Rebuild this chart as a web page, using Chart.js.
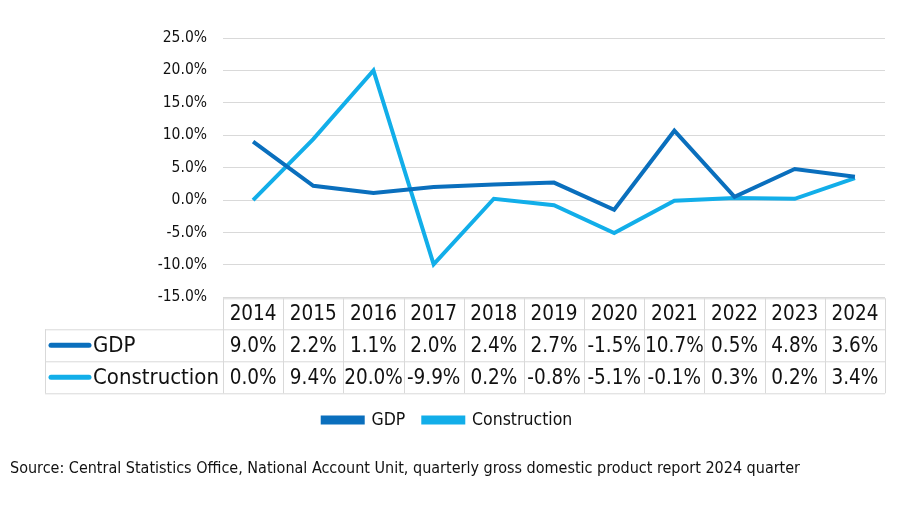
<!DOCTYPE html>
<html>
<head>
<meta charset="utf-8">
<script src="https://cdn.jsdelivr.net/npm/chart.js@4.4.1/dist/chart.umd.min.js"></script>
<style>
  html, body { margin: 0; padding: 0; background: #fff; }
  #wrap { width: 899px; height: 506px; }
</style>
</head>
<body>
<div id="wrap"><canvas id="growthChart" width="899" height="506"></canvas></div>
<script>
const years = ['2014', '2015', '2016', '2017', '2018', '2019', '2020', '2021', '2022', '2023', '2024'];
const gdp = [9.0, 2.2, 1.1, 2.0, 2.4, 2.7, -1.5, 10.7, 0.5, 4.8, 3.6];
const construction = [0.0, 9.4, 20.0, -9.9, 0.2, -0.8, -5.1, -0.1, 0.3, 0.2, 3.4];
const yTicks = [-15, -10, -5, 0, 5, 10, 15, 20, 25];

const FONT = '"DejaVu Sans Condensed", "Open Sans", sans-serif';
const darkBlue = '#0a6fbd';
const lightBlue = '#12aee9';
const gridCol = '#d9d9d9';

// dessine le tableau de données sous la zone du graphique
const dataTable = {
  id: 'dataTable',
  afterDraw(chart) {
    const c = chart.ctx;
    const x = chart.scales.x;
    const area = chart.chartArea;
    const step = x.getPixelForValue(1) - x.getPixelForValue(0);
    const rows = [area.bottom + 1, area.bottom + 32, area.bottom + 64, area.bottom + 96];
    const labelLeft = 45;
    c.save();
    c.strokeStyle = gridCol;
    c.lineWidth = 1;
    c.beginPath();
    // horizontales
    c.moveTo(area.left, rows[0] + 0.5); c.lineTo(area.right, rows[0] + 0.5);
    for (let r = 1; r < 4; r++) {
      c.moveTo(labelLeft, rows[r] + 0.5); c.lineTo(area.right, rows[r] + 0.5);
    }
    // verticales
    c.moveTo(labelLeft + 0.5, rows[1]); c.lineTo(labelLeft + 0.5, rows[3]);
    for (let i = 0; i <= years.length; i++) {
      const px = Math.round(x.getPixelForValue(0) - step / 2 + i * step) + 0.5;
      c.moveTo(px, rows[0]); c.lineTo(px, rows[3]);
    }
    c.stroke();

    c.fillStyle = '#111';
    c.font = '20.5px ' + FONT;
    c.textAlign = 'center';
    c.textBaseline = 'middle';
    years.forEach((yr, i) => {
      const px = x.getPixelForValue(i);
      c.fillText(yr, px, (rows[0] + rows[1]) / 2 + 1);
      c.fillText(gdp[i].toFixed(1) + '%', px, (rows[1] + rows[2]) / 2 + 1);
      c.fillText(construction[i].toFixed(1) + '%', px, (rows[2] + rows[3]) / 2 + 1);
    });

    const series = [['GDP', darkBlue], ['Construction', lightBlue]];
    c.font = '22px ' + FONT;
    series.forEach((s, k) => {
      const cy = (rows[k + 1] + rows[k + 2]) / 2;
      c.strokeStyle = s[1];
      c.lineWidth = 5;
      c.lineCap = 'round';
      c.beginPath();
      c.moveTo(51, cy); c.lineTo(89, cy);
      c.stroke();
      c.textAlign = 'left';
      c.fillText(s[0], 93, cy + 1);
    });
    c.restore();
  }
};

new Chart(document.getElementById('growthChart'), {
  type: 'line',
  data: {
    labels: years,
    datasets: [
      { label: 'GDP', data: gdp, borderColor: darkBlue, backgroundColor: darkBlue, borderWidth: 4, pointRadius: 0, tension: 0 },
      { label: 'Construction', data: construction, borderColor: lightBlue, backgroundColor: lightBlue, borderWidth: 4, pointRadius: 0, tension: 0 }
    ]
  },
  options: {
    responsive: false,
    animation: false,
    devicePixelRatio: 1,
    layout: { padding: { top: 38, left: 10, right: 14, bottom: 0 } },
    scales: {
      x: {
        offset: true,
        grid: { display: false },
        border: { display: false },
        ticks: { display: false },
        afterFit(scale) { scale.height = 96; }
      },
      y: {
        min: -15,
        max: 25,
        afterBuildTicks(scale) { scale.ticks = yTicks.map(v => ({ value: v })); },
        grid: { color: gridCol, drawTicks: false },
        border: { display: false },
        ticks: {
          padding: 16,
          color: '#111',
          font: { family: FONT, size: 15.5 },
          callback: v => v.toFixed(1) + '%'
        },
        afterFit(scale) { scale.width = 213; }
      }
    },
    plugins: {
      legend: {
        position: 'bottom',
        labels: {
          boxWidth: 40,
          boxHeight: 5,
          padding: 18,
          color: '#111',
          font: { family: FONT, size: 17.5 }
        }
      },
      title: {
        display: true,
        position: 'bottom',
        align: 'start',
        text: 'Source: Central Statistics Office, National Account Unit, quarterly gross domestic product report 2024 quarter',
        color: '#111',
        font: { family: FONT, size: 16, weight: 'normal' },
        padding: { top: 20, bottom: 28 }
      },
      tooltip: { enabled: false }
    }
  },
  plugins: [dataTable]
});
</script>
</body>
</html>
